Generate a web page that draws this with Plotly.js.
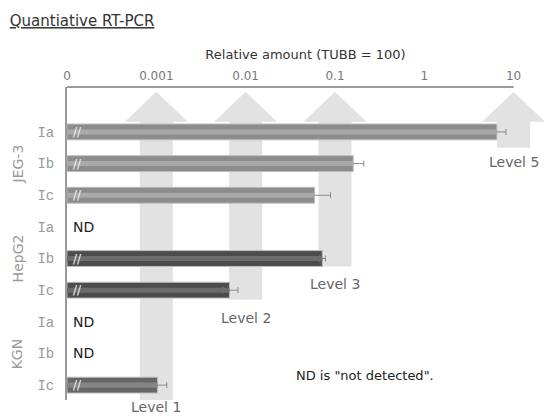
<!DOCTYPE html>
<html>
<head>
<meta charset="utf-8">
<script src="https://cdn.plot.ly/plotly-3.0.1.min.js"></script>
<style>html,body{margin:0;padding:0;background:#fff;}#chart{width:544px;height:416px;}</style>
</head>
<body>
<div id="chart"></div>
<script>
// ---- data ----
var cellLines = ['JEG-3','JEG-3','JEG-3','HepG2','HepG2','HepG2','KGN','KGN','KGN'];
var isoforms  = ['Ia','Ib','Ic','Ia','Ib','Ic','Ia','Ib','Ic'];
var values    = [6.5, 0.16, 0.059, null, 0.072, 0.0065, null, null, 0.00093];
var errPlus   = [1.7, 0.05, 0.03, null, 0.006, 0.0016, null, null, 0.00028];
var errMinus  = [0.3, 0.02, 0.023, null, 0.005, 0.001, null, null, 0.0001];
var tickVals  = [0.0001, 0.001, 0.01, 0.1, 1, 10];
var tickText  = ['0', '0.001', '0.01', '0.1', '1', '10'];
var groups    = ['JEG-3', 'HepG2', 'KGN'];
var levelNames = ['Level 1', 'Level 2', 'Level 3', 'Level 5'];
var levelX     = [0.001, 0.01, 0.1, 10];
var levelEndRow = [8.47, 5.3, 4.25, 0.5];
var levelLabelRow = [8.68, 5.89, 4.82, 0.94];

// ---- styling ----
var FONT = 'DejaVu Sans, sans-serif';
var ROW_PX = 31.75;
var Y_MAX = 8.47;
var rows = isoforms.map(function(_, i){ return i; });
var mainColor = {'JEG-3':'#8c8c8c', 'HepG2':'#4c4c4c', 'KGN':'#666666'};
var stripeColor = {'JEG-3':'#a9a9a9', 'HepG2':'#6c6c6c', 'KGN':'#858585'};
var baseVal = tickVals[0];

var traces = [
  {
    type:'bar', orientation:'h', x: values, y: rows, base: baseVal, width: 0.5,
    marker:{color: cellLines.map(function(c){return mainColor[c];}), line:{color:'#bdbdbd', width:1}},
    error_x:{type:'data', symmetric:false, array: errPlus, arrayminus: errMinus, color:'#8a8a8a', thickness:1, width:3},
    hoverinfo:'x'
  },
  {
    type:'bar', orientation:'h', x: values, y: rows, base: baseVal, width: 0.16,
    marker:{color: cellLines.map(function(c){return stripeColor[c];}), line:{width:0}},
    hoverinfo:'skip'
  }
];

var shapes = [];
var HEAD_TOP = -1.27, HEAD_BASE = -0.32, SHAFT = 1.53, HEAD = 2.25;
levelX.forEach(function(x, i){
  var e = levelEndRow[i];
  var p = 'M' + (x/SHAFT) + ',' + e + ' L' + (x/SHAFT) + ',' + HEAD_BASE + ' L' + (x/HEAD) + ',' + HEAD_BASE +
          ' L' + x + ',' + HEAD_TOP + ' L' + (x*HEAD) + ',' + HEAD_BASE + ' L' + (x*SHAFT) + ',' + HEAD_BASE +
          ' L' + (x*SHAFT) + ',' + e + ' Z';
  shapes.push({type:'path', xref:'x', yref:'y', path:p, fillcolor:'#e2e2e2', line:{width:0}, layer:'below'});
});
// top axis line (ends at 10)
shapes.push({type:'line', xref:'x', yref:'paper', x0: tickVals[0], x1: tickVals[tickVals.length-1], y0:1, y1:1,
             line:{color:'#9a9a9a', width:2}});

var annotations = [];
levelX.forEach(function(x, i){
  var yIn = Math.min(levelLabelRow[i], Y_MAX - 0.1);
  annotations.push({xref:'x', yref:'y', x: Math.log10(x), y: yIn, yanchor:'middle',
    yshift: -(levelLabelRow[i] - yIn) * ROW_PX,
    text: levelNames[i], showarrow:false, font:{family:FONT, size:14, color:'#666'}});
});
values.forEach(function(v, i){
  if (v === null) {
    annotations.push({xref:'x', yref:'y', x: Math.log10(baseVal), y: i, xanchor:'left', xshift:4,
      text:'ND', showarrow:false, font:{family:FONT, size:14, color:'#222'}});
  } else {
    annotations.push({xref:'x', yref:'y', x: Math.log10(baseVal), y: i, xanchor:'left', xshift:4,
      text:'//', showarrow:false, font:{family:FONT, size:12, color:'#f2f2f2'}});
  }
});
groups.forEach(function(g){
  var idx = [];
  cellLines.forEach(function(c, i){ if (c === g) idx.push(i); });
  var mid = (idx[0] + idx[idx.length-1]) / 2;
  annotations.push({xref:'paper', yref:'y', x: -0.103, xanchor:'center', y: mid, textangle: -90, text: g, showarrow:false,
    font:{family:FONT, size:14, color:'#9a9a9a'}});
});
annotations.push({xref:'paper', yref:'y', x: 0.475, y: 7.7, xanchor:'left', text:'ND is "not detected".',
  showarrow:false, font:{family:FONT, size:13, color:'#222'}});

var layout = {
  width:544, height:416,
  margin:{l:67, r:0, t:87, b:16},
  paper_bgcolor:'#fff', plot_bgcolor:'#fff',
  barmode:'overlay', showlegend:false,
  title:{text:'<span style="text-decoration:underline">Quantiative RT-PCR</span>', x:0.018, xanchor:'left', y:0.95, yanchor:'middle',
         font:{family:FONT, size:15, color:'#333'}},
  xaxis:{type:'log', side:'top', range:[-4, 1.34], tickvals: tickVals, ticktext: tickText,
         showgrid:false, zeroline:false, showline:false, ticks:'', ticklabelstandoff:4,
         tickfont:{family:FONT, size:12, color:'#777'},
         title:{text:'Relative amount (TUBB = 100)', standoff:6, font:{family:FONT, size:13, color:'#333'}}},
  yaxis:{range:[Y_MAX, -1.42], tickvals: rows, ticktext: isoforms, showgrid:false, zeroline:false,
         showline:true, linecolor:'#9a9a9a', linewidth:2, ticks:'', ticklabelstandoff:8,
         tickfont:{family:'Liberation Mono, monospace', size:14, color:'#999'}},
  shapes: shapes,
  annotations: annotations
};

Plotly.newPlot('chart', traces, layout, {displayModeBar:false, staticPlot:true});
</script>
</body>
</html>
